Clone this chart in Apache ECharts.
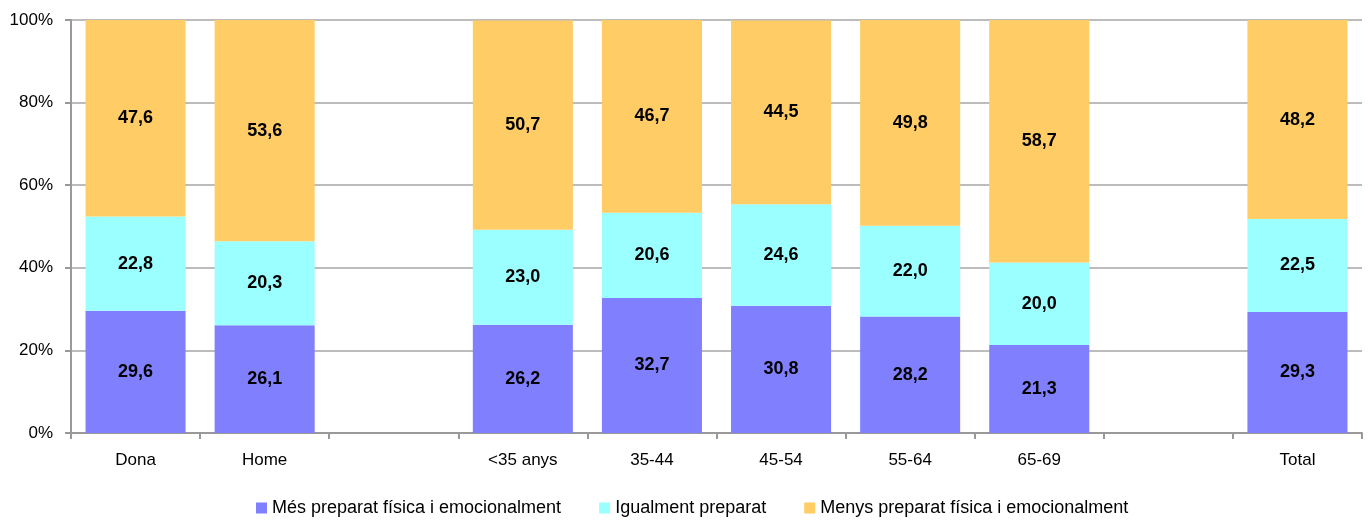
<!DOCTYPE html>
<html><head><meta charset="utf-8">
<script src="https://cdn.jsdelivr.net/npm/echarts@6/dist/echarts.min.js"></script>
<style>html,body{margin:0;padding:0;background:#fff}#c{width:1368px;height:525px}</style>
</head><body><div id="c"></div>
<script>
const categories = ['Dona','Home','','<35 anys','35-44','45-54','55-64','65-69','','Total'];
const seriesNames = ['Més preparat física i emocionalment','Igualment preparat','Menys preparat física i emocionalment'];
const mes = [29.6, 26.1, null, 26.2, 32.7, 30.8, 28.2, 21.3, null, 29.3];
const igual = [22.8, 20.3, null, 23.0, 20.6, 24.6, 22.0, 20.0, null, 22.5];
const menys = [47.6, 53.6, null, 50.7, 46.7, 44.5, 49.8, 58.7, null, 48.2];
const yTicks = [0, 20, 40, 60, 80, 100];
const colors = ['#8080ff', '#9cffff', '#ffcc66'];

const font = '"Liberation Sans", Arial, sans-serif';
function mk(name, data, color) {
  return {
    name, type: 'bar', stack: 'a', data, barCategoryGap: '22.5%',
    itemStyle: { color },
    label: { show: true, position: 'inside', fontFamily: font, fontWeight: 'bold', fontSize: 18, color: '#000',
      formatter: p => p.value == null ? '' : p.value.toFixed(1).replace('.', ',') }
  };
}
const chart = echarts.init(document.getElementById('c'));
chart.setOption({
  animation: false,
  textStyle: { fontFamily: font },
  grid: { left: 71, right: 6, top: 20, bottom: 92 },
  legend: {
    bottom: 3, left: 251, itemWidth: 11, itemHeight: 11, itemGap: 38,
    icon: 'rect',
    textStyle: { fontFamily: font, fontSize: 18, color: '#000' },
    data: seriesNames
  },
  xAxis: {
    type: 'category', data: categories,
    axisLine: { lineStyle: { color: '#999', width: 2 } },
    axisTick: { show: true, length: 6, lineStyle: { color: '#999', width: 2 } },
    axisLabel: { fontFamily: font, fontSize: 17, color: '#000', margin: 19 }
  },
  yAxis: {
    type: 'value', min: yTicks[0], max: yTicks[yTicks.length - 1], interval: 20,
    axisLine: { show: true, lineStyle: { color: '#999', width: 2 } },
    axisTick: { show: true, length: 6, lineStyle: { color: '#999', width: 2 } },
    splitLine: { lineStyle: { color: '#a6a6a6', width: 1.5 } },
    axisLabel: { fontFamily: font, fontSize: 17, color: '#000', margin: 18, formatter: v => v + '%' }
  },
  series: [mk(seriesNames[0], mes, colors[0]), mk(seriesNames[1], igual, colors[1]), mk(seriesNames[2], menys, colors[2])]
});
</script></body></html>
